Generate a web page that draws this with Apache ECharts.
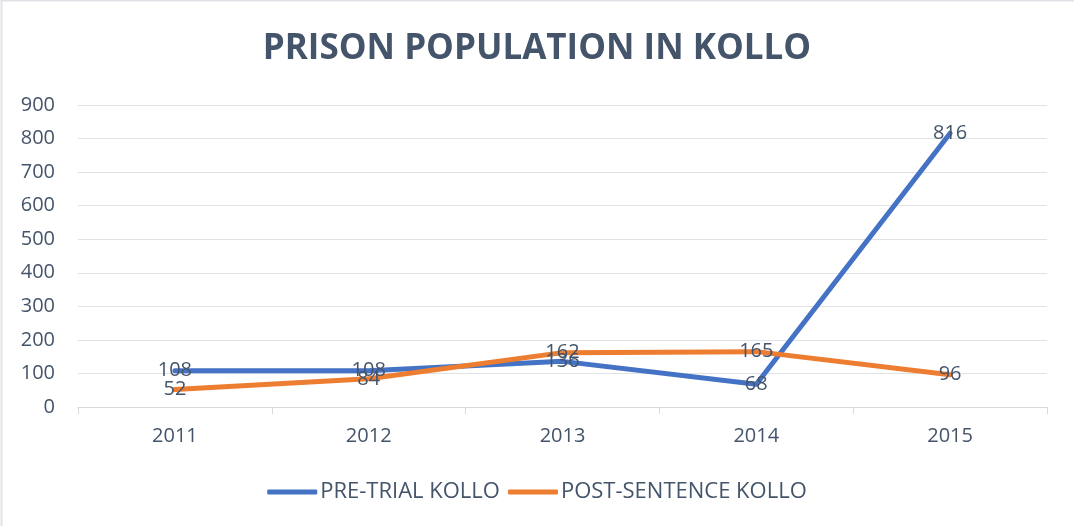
<!DOCTYPE html>
<html>
<head>
<meta charset="utf-8">
<script src="https://cdn.jsdelivr.net/npm/echarts@6/dist/echarts.min.js"></script>
<style>
  html, body { margin: 0; padding: 0; background: #fff; }
  #chart { width: 1074px; height: 526px; }
</style>
</head>
<body>
<div id="chart"></div>
<script>
const years = ['2011', '2012', '2013', '2014', '2015']
const preTrial = [108, 108, 136, 68, 816]
const postSentence = [52, 84, 162, 165, 96]
const yTicks = [0, 100, 200, 300, 400, 500, 600, 700, 800, 900]

const textColor = '#44546A'
const font = '"Open Sans", "Noto Sans", sans-serif'

const chart = echarts.init(document.getElementById('chart'), null, { renderer: 'canvas' })

const lineSeries = (name, data, color) => ({
  name,
  type: 'line',
  data,
  showSymbol: true,
  symbol: 'circle',
  symbolSize: 0,
  lineStyle: { color, width: 5, cap: 'round', join: 'round' },
  itemStyle: { color },
  label: {
    show: true,
    position: 'inside',
    color: textColor,
    fontSize: 20,
    fontFamily: font,
  },
  animation: false,
})

chart.setOption({
  backgroundColor: '#fff',
  animation: false,
  title: {
    text: 'PRISON POPULATION IN KOLLO',
    left: 'center',
    top: 27,
    textStyle: { color: textColor, fontSize: 35, fontWeight: 'bold', fontFamily: font },
  },
  // frame edge visible on the left and top only
  graphic: [{
    type: 'rect',
    shape: { x: 1.5, y: 0.5, width: 1100, height: 560 },
    style: { fill: 'none', stroke: '#dfe3e8', lineWidth: 2 },
    silent: true,
  }],
  legend: {
    bottom: 18,
    left: 'center',
    itemWidth: 50,
    itemHeight: 5,
    itemGap: 8,
    icon: 'roundRect',
    textStyle: { color: textColor, fontSize: 22, fontFamily: font, padding: [0, 0, 0, -2] },
    data: ['PRE-TRIAL KOLLO', 'POST-SENTENCE KOLLO'],
  },
  grid: { left: 78, right: 27, top: 105, bottom: 119 },
  xAxis: {
    type: 'category',
    data: years,
    boundaryGap: true,
    axisLine: { lineStyle: { color: '#d9d9d9', width: 1 } },
    axisTick: { show: true, length: 7, lineStyle: { color: '#d9d9d9' } },
    axisLabel: { color: textColor, fontSize: 20, fontFamily: font, margin: 19 },
  },
  yAxis: {
    type: 'value',
    min: yTicks[0],
    max: yTicks[yTicks.length - 1],
    interval: 100,
    axisLine: { show: false },
    axisTick: { show: false },
    axisLabel: { color: textColor, fontSize: 20, fontFamily: font, margin: 23 },
    splitLine: { lineStyle: { color: '#dfe3e8', width: 1 } },
  },
  series: [
    lineSeries('PRE-TRIAL KOLLO', preTrial, '#4472C4'),
    lineSeries('POST-SENTENCE KOLLO', postSentence, '#ED7D31'),
  ],
})
</script>
</body>
</html>
